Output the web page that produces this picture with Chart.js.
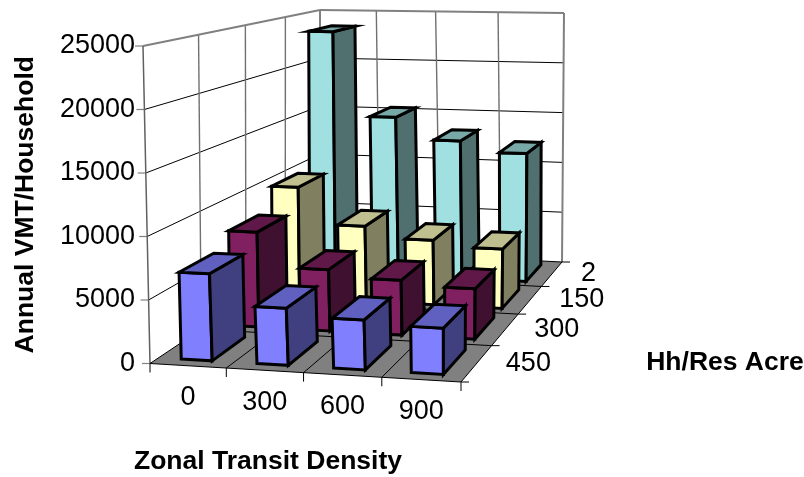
<!DOCTYPE html>
<html>
<head>
<meta charset="utf-8">
<style>
  html, body { margin: 0; padding: 0; background: #fff; }
  #wrap { width: 804px; height: 477px; }
</style>
<script src="https://cdn.jsdelivr.net/npm/chart.js@4"></script>
</head>
<body>
<div id="wrap"><canvas id="chart" width="804" height="477"></canvas></div>
<script>
const transitDensity = ['0', '300', '600', '900'];
const hhDensity = ['2', '150', '300', '450'];   // back row to front row

const row2 = [23500, 15300, 13200, 12200];
const row150 = [10100, 6800, 5800, 5300];
const row300 = [8100, 5200, 4600, 4200];
const row450 = [6900, 4500, 3900, 3600];

const yTicks = { min: 0, max: 25000, stepSize: 5000 };

const faceColors = ['#A0E0E0', '#FFFFC0', '#802060', '#8080FF'];
const topColors = ['#78A8A8', '#BFBF90', '#601848', '#6060C0'];
const sideColors = ['#507070', '#808060', '#401030', '#404080'];

const fontName = '"Liberation Sans", Arial, sans-serif';

// corners of the box, screen space: front-left, front-right, back-right, back-left
const floorQuad = [[150, 363.5], [461, 382], [562, 262], [320, 250]];
const roofQuad = [[143, 46], [464, 56], [564, 13], [320, 10]];

function squareToQuad(q) {
  const [p0, p1, p2, p3] = q;
  const dx1 = p1[0] - p2[0], dx2 = p3[0] - p2[0], sx = p0[0] - p1[0] + p2[0] - p3[0];
  const dy1 = p1[1] - p2[1], dy2 = p3[1] - p2[1], sy = p0[1] - p1[1] + p2[1] - p3[1];
  const det = dx1 * dy2 - dx2 * dy1;
  const g = (sx * dy2 - dx2 * sy) / det;
  const h = (dx1 * sy - sx * dy1) / det;
  const a = p1[0] - p0[0] + g * p1[0], b = p3[0] - p0[0] + h * p3[0], c = p0[0];
  const d = p1[1] - p0[1] + g * p1[1], e = p3[1] - p0[1] + h * p3[1], f = p0[1];
  return (u, v) => {
    const k = g * u + h * v + 1;
    return [(a * u + b * v + c) / k, (d * u + e * v + f) / k];
  };
}

const onFloor = squareToQuad(floorQuad);
const onRoof = squareToQuad(roofQuad);

function project(u, v, w) {
  const a = onFloor(u, v), b = onRoof(u, v);
  return [a[0] + (b[0] - a[0]) * w, a[1] + (b[1] - a[1]) * w];
}

function poly(ctx, pts, fill, stroke, width) {
  ctx.beginPath();
  pts.forEach((p, i) => i ? ctx.lineTo(p[0], p[1]) : ctx.moveTo(p[0], p[1]));
  ctx.closePath();
  if (fill) { ctx.fillStyle = fill; ctx.fill(); }
  if (stroke) { ctx.strokeStyle = stroke; ctx.lineWidth = width; ctx.stroke(); }
}

function line(ctx, a, b, color, width) {
  ctx.beginPath();
  ctx.moveTo(a[0], a[1]);
  ctx.lineTo(b[0], b[1]);
  ctx.strokeStyle = color;
  ctx.lineWidth = width;
  ctx.stroke();
}

function drawBox(ctx, u0, u1, v0, v1, w, i) {
  const b = [project(u0, v0, 0), project(u1, v0, 0), project(u1, v1, 0)];
  const t = [project(u0, v0, w), project(u1, v0, w), project(u1, v1, w), project(u0, v1, w)];
  poly(ctx, [b[0], b[1], t[1], t[0]], faceColors[i], '#000', 3);
  poly(ctx, [b[1], b[2], t[2], t[1]], sideColors[i], '#000', 3);
  poly(ctx, t, topColors[i], '#000', 3);
}

const box3d = {
  id: 'box3d',
  afterDatasetsDraw(chart) {
    const ctx = chart.ctx;
    const y = chart.scales.y;
    const wOf = px => (y.bottom - px) / (y.bottom - y.top);
    ctx.save();
    ctx.lineJoin = 'miter';

    // walls
    poly(ctx, [project(0, 1, 0), project(1, 1, 0), project(1, 1, 1), project(0, 1, 1)], '#fff');
    poly(ctx, [project(0, 0, 0), project(0, 1, 0), project(0, 1, 1), project(0, 0, 1)], '#fff');
    y.ticks.forEach(t => {
      const w = wOf(y.getPixelForValue(t.value));
      if (w > 0 && w < 1) {
        line(ctx, project(0, 0, w), project(0, 1, w), '#000', 1);
        line(ctx, project(0, 1, w), project(1, 1, w), '#000', 1);
      }
      const p = project(0, 0, w);
      line(ctx, [p[0] - 8, p[1]], p, '#808080', 1.2);
    });
    for (let k = 1; k < 4; k++) {
      line(ctx, project(k / 4, 1, 0), project(k / 4, 1, 1), '#707070', 1.4);
      line(ctx, project(0, k / 4, 0), project(0, k / 4, 1), '#707070', 1.4);
    }
    line(ctx, project(0, 0, 1), project(0, 1, 1), '#808080', 2);
    line(ctx, project(0, 1, 1), project(1, 1, 1), '#808080', 2);
    line(ctx, project(1, 1, 1), project(1, 1, 0), '#808080', 2);
    line(ctx, project(0, 1, 0), project(0, 1, 1), '#808080', 2);
    line(ctx, project(0, 0, 0), project(0, 0, 1), '#606060', 1.5);

    // floor
    poly(ctx, [project(0, 0, 0), project(1, 0, 0), project(1, 1, 0), project(0, 1, 0)], '#808080');
    for (let k = 0; k <= 4; k++) {
      const a = project(k / 4, 0, 0), b = project(1, k / 4, 0);
      line(ctx, a, project(k / 4, 1, 0), '#000', 1);
      line(ctx, project(0, k / 4, 0), b, '#000', 1);
      line(ctx, a, [a[0], a[1] + 9], '#000', 1);
      line(ctx, b, [b[0] + 8, b[1]], '#000', 1);
    }

    // bars, back row first
    chart.data.datasets.forEach((ds, r) => {
      chart.getDatasetMeta(r).data.forEach((el, c) => {
        const front = hhDensity.length - 1 - r;
        drawBox(ctx, (c + 0.3) / 4, (c + 0.71) / 4, (front + 0.16) / 4, (front + 0.84) / 4, wOf(el.y), r);
      });
    });

    // axis labels on the floor edges
    ctx.fillStyle = '#000';
    ctx.font = '27px ' + fontName;
    ctx.textBaseline = 'middle';
    ctx.textAlign = 'center';
    transitDensity.forEach((s, c) => {
      const p = project((c + 0.5) / 4, 0, 0);
      ctx.fillText(s, p[0], p[1] + 32);
    });
    ctx.textAlign = 'left';
    hhDensity.forEach((s, r) => {
      const front = hhDensity.length - 1 - r;
      const p = project(1, (front + 0.5) / 4, 0);
      ctx.fillText(s, p[0] + 29, p[1]);
    });
    ctx.font = 'bold 26.5px ' + fontName;
    ctx.textAlign = 'center';
    ctx.fillText('Zonal Transit Density', 268, 462);
    ctx.fillText('Hh/Res Acre', 725, 363);
    ctx.restore();
  }
};

new Chart(document.getElementById('chart'), {
  type: 'bar',
  data: {
    labels: transitDensity,
    datasets: [
      { label: hhDensity[0], data: row2 },
      { label: hhDensity[1], data: row150 },
      { label: hhDensity[2], data: row300 },
      { label: hhDensity[3], data: row450 }
    ].map(d => ({ ...d, backgroundColor: 'transparent', borderWidth: 0 }))
  },
  options: {
    responsive: false,
    animation: false,
    layout: { padding: { top: 46, bottom: 113.5, left: 10, right: 240 } },
    plugins: { legend: { display: false }, tooltip: { enabled: false } },
    scales: {
      x: { display: false },
      y: {
        min: yTicks.min,
        max: yTicks.max,
        afterFit(scale) { scale.width = 137; },
        ticks: {
          stepSize: yTicks.stepSize,
          padding: 12,
          color: '#000',
          font: { family: fontName, size: 27 },
          callback: v => String(v)
        },
        grid: { drawOnChartArea: false, drawTicks: false },
        border: { display: false },
        title: {
          display: true,
          text: 'Annual VMT/Household',
          color: '#000',
          padding: 0,
          font: { family: fontName, size: 26.5, weight: 'bold' }
        }
      }
    }
  },
  plugins: [box3d]
});
</script>
</body>
</html>
